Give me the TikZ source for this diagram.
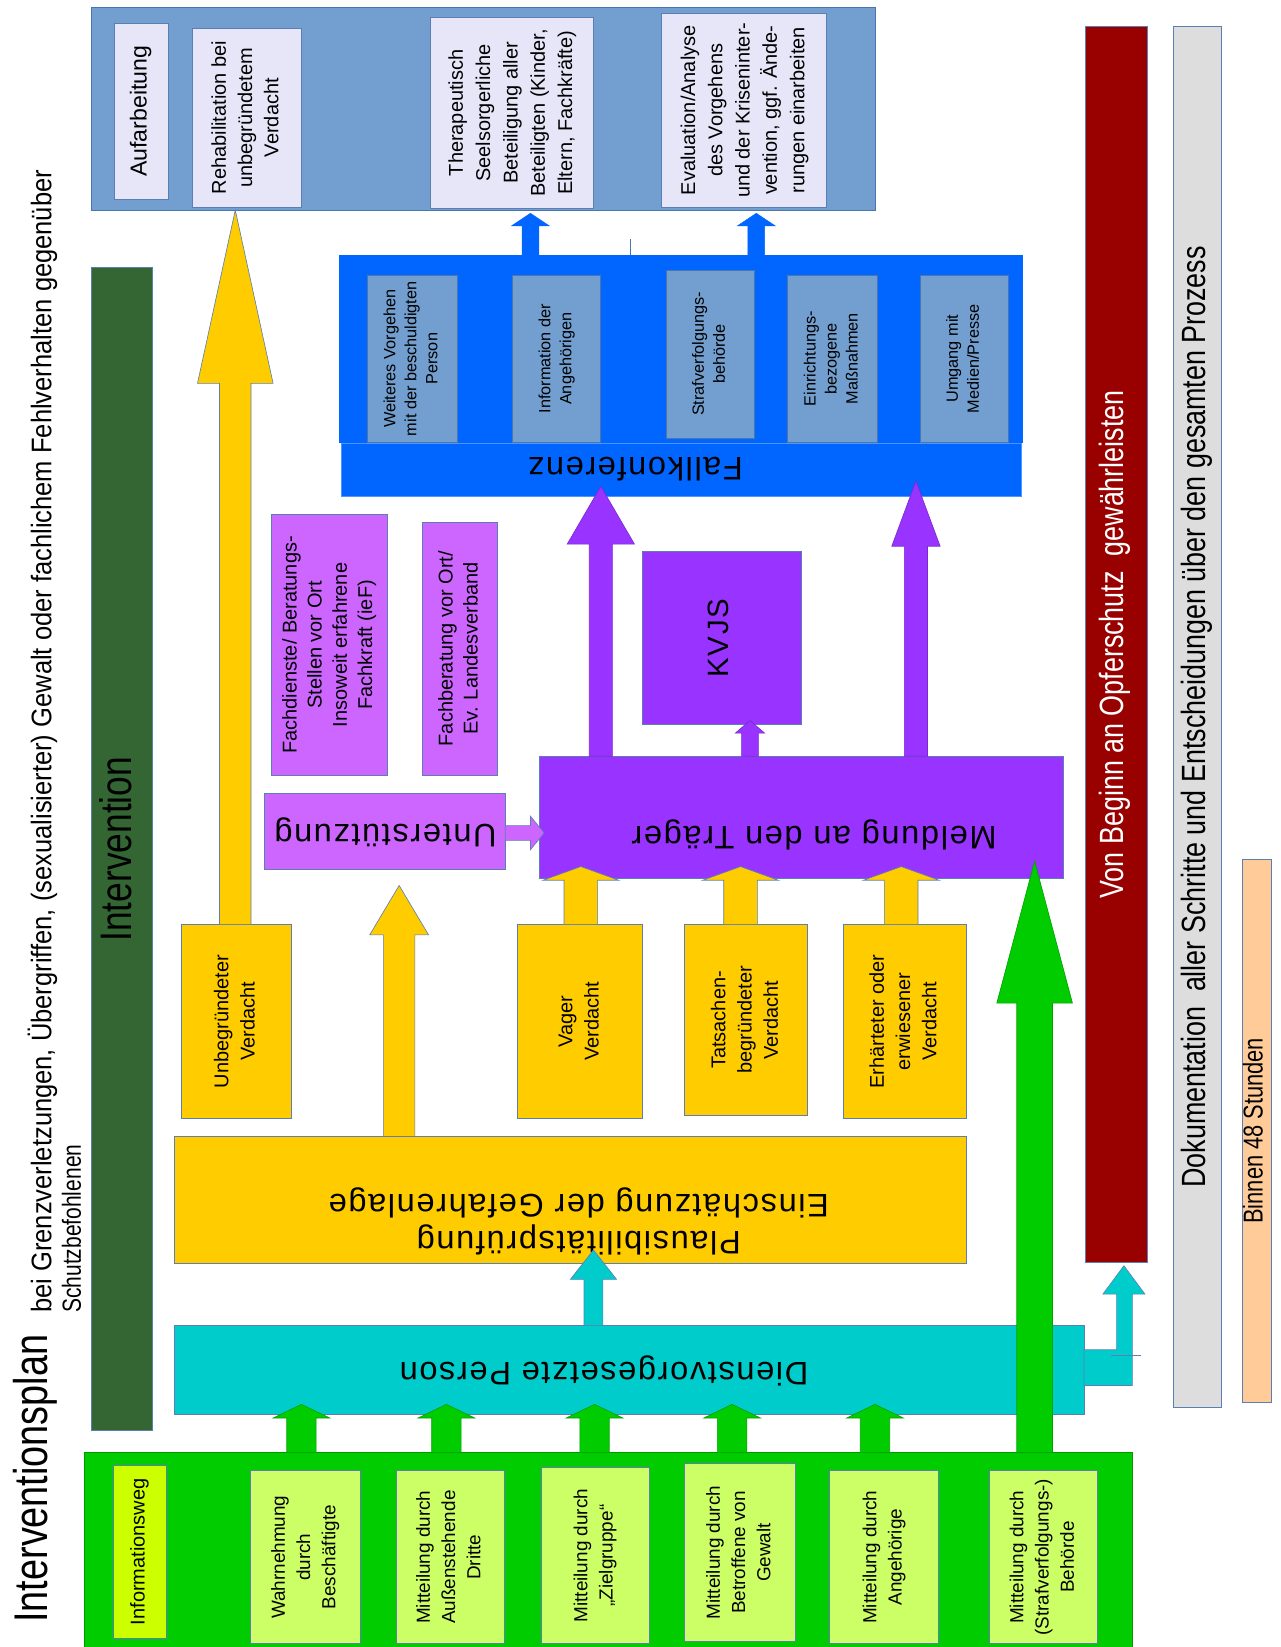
\documentclass[tikz,border=0pt]{standalone}
\usepackage{graphicx}
\usepackage{fontspec}
\setmainfont{Liberation Sans}
\newfontfamily\narf[FakeStretch=0.8]{Liberation Sans}
\newfontfamily\narg[FakeStretch=0.9]{Liberation Sans}
\newfontfamily\widef[LetterSpace=5.0]{Liberation Sans}
\usetikzlibrary{calc}
\definecolor{steel}{HTML}{729FCF}
\definecolor{steelb}{HTML}{4A76B0}
\definecolor{lav}{HTML}{E6E6F8}
\definecolor{fkblue}{HTML}{0066FF}
\definecolor{purp}{HTML}{9933FF}
\definecolor{lpurp}{HTML}{CC66FF}
\definecolor{yel}{HTML}{FFCC00}
\definecolor{cyanb}{HTML}{00CCCC}
\definecolor{grn}{HTML}{00CC00}
\definecolor{lgrn}{HTML}{CCFF66}
\definecolor{ygrn}{HTML}{CCFF00}
\definecolor{dgrn}{HTML}{336633}
\definecolor{redb}{HTML}{990000}
\definecolor{grayb}{HTML}{DDDDDD}
\definecolor{peach}{HTML}{FFCC99}
\definecolor{bord}{HTML}{5B7FB5}
\newcommand{\rlines}[2]{\makebox[0pt]{\rotatebox{#1}{\begin{tabular}{@{}c@{}}#2\end{tabular}}}}
\newcommand{\vt}[3]{\fontsize{#1}{#2}\selectfont\rlines{90}{#3}}
\newcommand{\mkbox}[7]{\node[bx,#6,minimum width={(#4-#2)*1pt},minimum height={(#5-#3)*1pt}] (#1) at ({(#2+#4)/2},{(#3+#5)/2}) {#7};}
% #1 style, #2 x, #3 from anchor, #4 to anchor, #5 half shaft, #6 half head, #7 head length, #8 overshoot
\newcommand{\uarr}[8]{%
 \path[#1] let \p1=(#3), \p2=(#4) in
 ({#2-#5},\y1) -- ({#2-#5},{\y2+(#8)*1pt-(#7)*1pt}) -- ({#2-#6},{\y2+(#8)*1pt-(#7)*1pt}) -- (#2,{\y2+(#8)*1pt}) -- ({#2+#6},{\y2+(#8)*1pt-(#7)*1pt}) -- ({#2+#5},{\y2+(#8)*1pt-(#7)*1pt}) -- ({#2+#5},\y1) -- cycle;}
\tikzset{
 bx/.style={draw=bord, line width=0.8pt, inner sep=0pt, outer sep=0pt},
 lavbox/.style={fill=lav},
 innerbox/.style={fill=steel, draw=steelb},
 purpbox/.style={fill=purp, draw=bord},
 lpurpbox/.style={fill=lpurp, draw=bord},
 yelbox/.style={fill=yel, draw=bord},
 lgrnbox/.style={fill=lgrn, draw=bord},
 txt/.style={inner sep=0pt},
 arrbase/.style={draw=bord, line width=0.6pt},
 yarr/.style={arrbase, fill=yel},
 parr/.style={arrbase, fill=purp, draw=purp!80!black},
 barr/.style={fill=fkblue, draw=fkblue},
 carr/.style={arrbase, fill=cyanb},
 garr/.style={fill=grn, draw=grn!80!black, line width=0.6pt},
}
\begin{document}
\begin{tikzpicture}[x=1pt,y=-1pt]
\useasboundingbox (0,0) rectangle (1219,1568);
\fill[white] (0,0) rectangle (1219,1568);

% title
\node[rotate=90, anchor=base west, txt] (title) at (45,1545) {\narf\fontsize{45}{50}\selectfont Interventionsplan};
\node[rotate=90, anchor=base west, txt] (sub1) at (49,1250) {\narg\fontsize{27}{30}\selectfont bei Grenzverletzungen, Übergriffen, (sexualisierter) Gewalt oder fachlichem Fehlverhalten gegenüber};
\node[rotate=90, anchor=base west, txt] (sub2) at (77,1250) {\narf\fontsize{25}{30}\selectfont Schutzbefohlenen};

% Intervention bar
\mkbox{interv}{87}{255}{145}{1362}{fill=dgrn}{\narf\fontsize{42}{46}\selectfont\rlines{90}{Intervention}}

% top panel
\mkbox{aufpanel}{87}{7}{833}{200}{fill=steel, draw=steelb}{}
\mkbox{aufarb}{109}{22}{160}{190}{lavbox}{\vt{22}{26}{Aufarbeitung}}
\mkbox{rehab}{183}{27}{287}{197}{lavbox}{\vt{19}{25}{Rehabilitation bei\\unbegründetem\\Verdacht}}
\mkbox{thera}{410}{17}{565}{198}{lavbox}{\vt{19}{26}{Therapeutisch\\Seelsorgerliche\\Beteiligung aller\\Beteiligten (Kinder,\\Eltern, Fachkräfte)}}
\mkbox{eval}{630}{13}{787}{197}{lavbox}{\vt{19}{26}{Evaluation/Analyse\\des Vorgehens\\und der Kriseninter-\\vention, ggf. Ände-\\rungen einarbeiten}}

% Fallkonferenz
\mkbox{fkpanel}{323}{243}{973}{421}{fill=fkblue, draw=fkblue}{}
\mkbox{fk}{325}{422}{972}{473}{fill=fkblue, draw=fkblue!70!white}{}
\node[txt] (fkt) at (605,447) {\widef\fontsize{31}{34}\selectfont\rotatebox{180}{Fallkonferenz}};
\mkbox{fk1}{350}{262}{435}{421}{innerbox}{\vt{15.5}{20}{Weiteres Vorgehen\\mit der beschuldigten\\Person}}
\mkbox{fk2}{488}{262}{572}{421}{innerbox}{\vt{15.5}{20}{Information der\\Angehörigen}}
\mkbox{fk3}{634}{257}{718}{417}{innerbox}{\vt{15.5}{20}{Strafverfolgungs-\\behörde}}
\mkbox{fk4}{750}{262}{835}{421}{innerbox}{\vt{15.5}{20}{Einrichtungs-\\bezogene\\Maßnahmen}}
\mkbox{fk5}{876}{262}{960}{421}{innerbox}{\vt{15.5}{20}{Umgang mit\\Medien/Presse}}
\draw[steelb, line width=0.6pt] (600,228) -- (fkpanel.north -| 600,0);

% purple section
\mkbox{fachd}{258}{490}{369}{738}{lpurpbox}{\vt{19}{24}{Fachdienste/ Beratungs-\\Stellen vor Ort\\Insoweit erfahrene\\Fachkraft (ieF)}}
\mkbox{fachb}{402}{497}{474}{738}{lpurpbox}{\vt{19}{24}{Fachberatung vor Ort/\\Ev. Landesverband}}
\mkbox{kvjs}{612}{525}{763}{690}{purpbox}{\widef\fontsize{28}{30}\selectfont\rlines{90}{KVJS}}
\mkbox{meld}{514}{720}{1012}{836}{purpbox}{}
\node[txt] (meldt) at (775,795) {\widef\fontsize{31}{34}\selectfont\rotatebox{180}{Meldung an den Träger}};
\mkbox{unter}{252}{755}{481}{828}{lpurpbox}{}
\node[txt] (untert) at (367,792) {\widef\fontsize{31}{34}\selectfont\rotatebox{180}{Unterstützung}};

% yellow section
\mkbox{unbeg}{173}{880}{277}{1065}{yelbox}{\vt{19}{25}{Unbegründeter\\Verdacht}}
\mkbox{vager}{493}{880}{612}{1065}{yelbox}{\vt{19}{25}{Vager\\Verdacht}}
\mkbox{tats}{652}{880}{769}{1062}{yelbox}{\vt{19}{25}{Tatsachen-\\begründeter\\Verdacht}}
\mkbox{erh}{803}{880}{920}{1065}{yelbox}{\vt{19}{25}{Erhärteter oder\\erwiesener\\Verdacht}}
\mkbox{plaus}{166}{1082}{920}{1203}{yelbox}{}
\node[txt] (plaust) at (551,1162) {\widef\fontsize{31}{35}\selectfont\rlines{180}{Plausibilitätsprüfung\\Einschätzung der Gefahrenlage}};

% cyan
\mkbox{dienst}{166}{1262}{1032}{1347}{fill=cyanb}{}
\node[txt] (dienstt) at (575,1305) {\widef\fontsize{31}{34}\selectfont\rotatebox{180}{Dienstvorgesetzte Person}};

% green panel
\mkbox{gpanel}{80}{1383}{1078}{1575}{fill=grn, draw=grn!75!black}{}
\mkbox{infoweg}{108}{1395}{158}{1560}{fill=ygrn}{\vt{19}{24}{Informationsweg}}
\mkbox{g1}{238}{1400}{343}{1565}{lgrnbox}{\vt{18}{24}{Wahrnehmung\\durch\\Beschäftigte}}
\mkbox{g2}{377}{1400}{480}{1565}{lgrnbox}{\vt{18}{24}{Mitteilung durch\\Außenstehende\\Dritte}}
\mkbox{g3}{515}{1397}{618}{1565}{lgrnbox}{\vt{18}{24}{Mitteilung durch\\„Zielgruppe“}}
\mkbox{g4}{652}{1393}{757}{1563}{lgrnbox}{\vt{18}{24}{Mitteilung durch\\Betroffene von\\Gewalt}}
\mkbox{g5}{790}{1400}{893}{1565}{lgrnbox}{\vt{18}{24}{Mitteilung durch\\Angehörige}}
\mkbox{g6}{942}{1400}{1045}{1565}{lgrnbox}{\vt{18}{24}{Mitteilung durch\\(Strafverfolgungs-)\\Behörde}}

% right bars
\mkbox{opfer}{1033}{25}{1092}{1202}{fill=redb}{\narf\fontsize{32}{36}\selectfont\color{white}\rlines{90}{Von Beginn an Opferschutz\ \ gewährleisten}}
\mkbox{doku}{1117}{25}{1163}{1340}{fill=grayb}{\narf\fontsize{32}{36}\selectfont\rlines{90}{Dokumentation\ \ aller Schritte und Entscheidungen über den gesamten Prozess}}
\mkbox{binnen}{1183}{818}{1210}{1335}{fill=peach}{\narf\fontsize{26}{28}\selectfont\rlines{90}{Binnen 48 Stunden}}

% arrows
\uarr{barr}{505}{fkpanel.north}{thera.south}{8}{18}{12}{-5}
\uarr{barr}{720}{fkpanel.north}{eval.south}{8}{18}{12}{-6}
\uarr{parr}{572}{meld.north}{fk.south}{11}{32}{55}{10}
\uarr{parr}{872}{meld.north}{fk.south}{11}{23}{62}{15}
\uarr{parr}{714}{meld.north}{kvjs.south}{8}{14}{12}{4}
\uarr{yarr}{553}{vager.north}{meld.south}{16}{36}{13}{11}
\uarr{yarr}{705}{tats.north}{meld.south}{16}{36}{13}{11}
\uarr{yarr}{858}{erh.north}{meld.south}{16}{36}{13}{11}
\uarr{yarr}{380}{plaus.north}{unter.south}{15}{28}{47}{-15}
\uarr{yarr}{224}{unbeg.north}{rehab.south}{15}{36}{165}{-3}
\uarr{carr}{565}{dienst.north}{plaus.south}{9}{22}{28}{13}
\foreach \gx in {287,425,566,697,833}{\uarr{garr}{\gx}{gpanel.north}{dienst.south}{14}{27}{13}{10}}
\uarr{garr}{985}{gpanel.north}{meld.south}{17}{36}{135}{16}
% Unterstuetzung -> Meldung
\path[arrbase, fill=lpurp] let \p1=(unter.east), \p2=(meld.west) in
 (\x1,786) -- ({\x2-9pt},786) -- ({\x2-9pt},777) -- ({\x2+4pt},793) -- ({\x2-9pt},809) -- ({\x2-9pt},800) -- (\x1,800) -- cycle;
% Dienstvorgesetzte -> Opferschutz
\path[arrbase, fill=cyanb] let \p1=(dienst.east), \p2=(opfer.south) in
 (\x1,1285) -- (1063,1285) -- (1063,1232) -- (1050,1232) -- (1070,{\y2-3pt}) -- (1090,1232) -- (1078,1232) -- (1078,1319) -- (\x1,1319) -- cycle;
\draw[bord, line width=0.6pt] (1058,1290) -- (1086,1290);
\end{tikzpicture}
\end{document}
